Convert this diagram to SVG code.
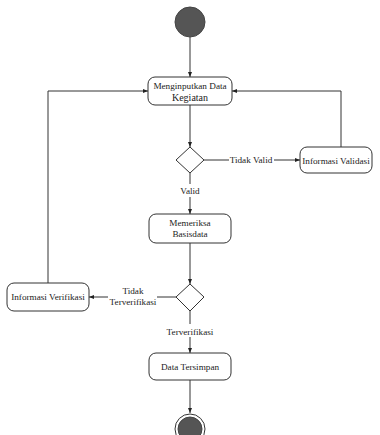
<svg xmlns="http://www.w3.org/2000/svg" width="380" height="435" viewBox="0 0 380 435">
<defs>
<marker id="arr" viewBox="0 0 10 10" refX="10" refY="5" markerWidth="5" markerHeight="5" orient="auto" markerUnits="userSpaceOnUse">
<path d="M0,1 L10,5 L0,9 z" fill="#222"/>
</marker>
<style>
.box{fill:#fff;stroke:#333;stroke-width:1}
.dia{fill:#fff;stroke:#333;stroke-width:1}
.ln{fill:none;stroke:#333;stroke-width:1}
text{font-family:"Liberation Serif","Times New Roman","DejaVu Serif",serif;font-size:9.2px;fill:#222;text-anchor:middle}
.big{font-size:10px}
.dot{fill:#555;stroke:#444}
</style>
</defs>
<rect width="380" height="435" fill="#fff"/>
<g id="connectors">
<line class="ln" x1="190" y1="37" x2="190" y2="77" marker-end="url(#arr)"/>
<line class="ln" x1="190" y1="105" x2="190" y2="147" marker-end="url(#arr)"/>
<line class="ln" x1="204" y1="160" x2="229" y2="160"/>
<line class="ln" x1="274" y1="160" x2="300" y2="160" marker-end="url(#arr)"/>
<polyline class="ln" points="341,147 341,91 232,91" marker-end="url(#arr)"/>
<line class="ln" x1="190" y1="173" x2="190" y2="184"/>
<line class="ln" x1="190" y1="197" x2="190" y2="214" marker-end="url(#arr)"/>
<line class="ln" x1="190" y1="243" x2="190" y2="284" marker-end="url(#arr)"/>
<line class="ln" x1="177" y1="297" x2="157" y2="297"/>
<line class="ln" x1="108" y1="297" x2="89" y2="297" marker-end="url(#arr)"/>
<polyline class="ln" points="48,283 48,91 148,91" marker-end="url(#arr)"/>
<line class="ln" x1="190" y1="311" x2="190" y2="324"/>
<line class="ln" x1="190" y1="337" x2="190" y2="353" marker-end="url(#arr)"/>
<line class="ln" x1="190" y1="380" x2="190" y2="413" marker-end="url(#arr)"/>
<text x="251" y="163">Tidak Valid</text>
<text x="190" y="194">Valid</text>
<text x="133" y="294">Tidak</text>
<text x="133" y="305">Terverifikasi</text>
<text x="190" y="335">Terverifikasi</text>
</g>
<g id="start"><circle class="dot" cx="190" cy="22" r="15"/></g>
<g id="menginputkan">
<rect class="box" x="148" y="77" width="84" height="28" rx="7"/>
<text x="190" y="88.5">Menginputkan Data</text>
<text class="big" x="190" y="100.5">Kegiatan</text>
</g>
<g id="decision1"><polygon class="dia" points="190,147 204,160 190,173 176,160"/></g>
<g id="informasi-validasi">
<rect class="box" x="300" y="147" width="72" height="26" rx="7"/>
<text x="336" y="163.5">Informasi Validasi</text>
</g>
<g id="memeriksa">
<rect class="box" x="149" y="214" width="82" height="29" rx="7"/>
<text x="190" y="226">Memeriksa</text>
<text x="190" y="237">Basisdata</text>
</g>
<g id="decision2"><polygon class="dia" points="190,284 204,297 190,311 176,297"/></g>
<g id="informasi-verifikasi">
<rect class="box" x="7" y="283" width="82" height="28" rx="7"/>
<text x="48" y="300">Informasi Verifikasi</text>
</g>
<g id="data-tersimpan">
<rect class="box" x="149" y="353" width="82" height="27" rx="7"/>
<text x="190" y="369.5">Data Tersimpan</text>
</g>
<g id="end">
<circle cx="190" cy="429" r="15" fill="#fff" stroke="#333"/>
<circle class="dot" cx="190" cy="429" r="12"/>
</g>
</svg>
